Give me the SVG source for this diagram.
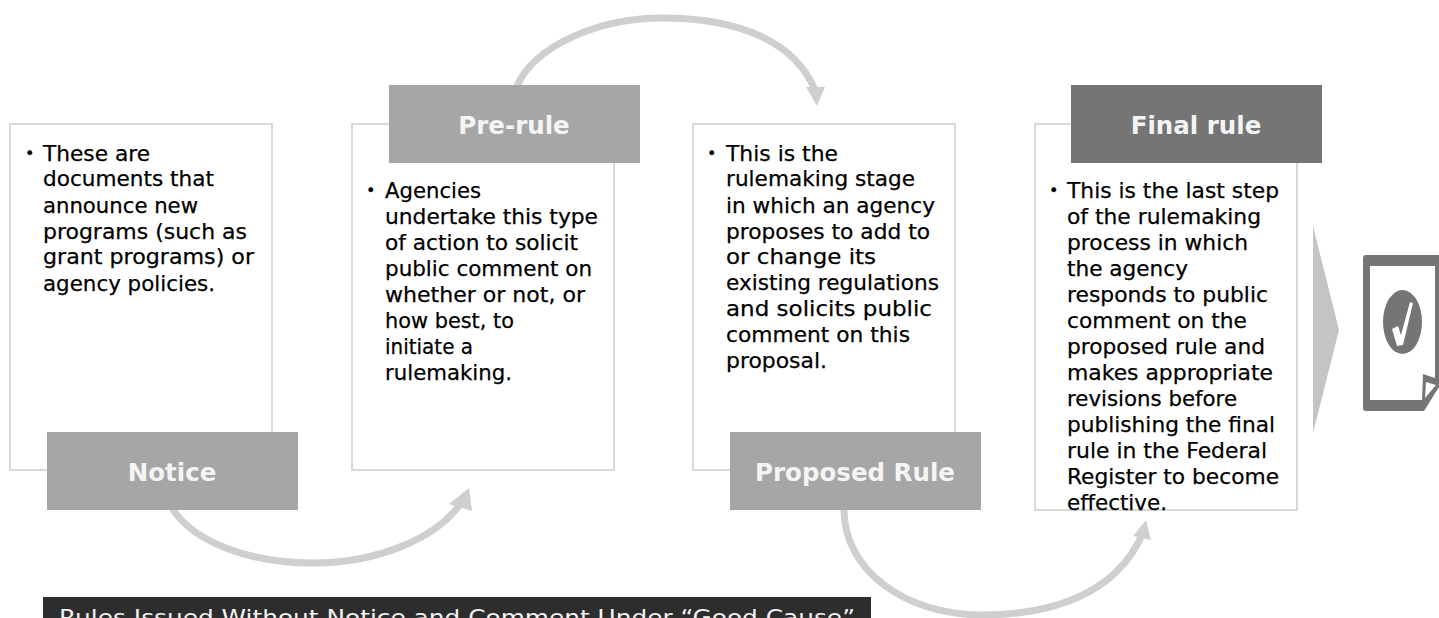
<svg xmlns="http://www.w3.org/2000/svg" width="1439" height="618" viewBox="0 0 1439 618">
<style>
.box{fill:#fff;stroke:#d9d9d9;stroke-width:2}
.t{font-family:"DejaVu Sans",Verdana,sans-serif;font-size:21.500px;fill:#000;stroke:#000;stroke-width:.25}
.b{font-size:16px}
.h{font-family:"DejaVu Sans",Verdana,sans-serif;font-size:24.500px;font-weight:700;fill:#f4f4f4;text-anchor:middle}
.c{fill:none;stroke:#cfcfcf;stroke-width:7}
.ah{fill:#cfcfcf}
</style>
<rect width="1439" height="618" fill="#fff"/>
<g id="connectors">
<path class="c" d="M172 508C195 545 255 563 313 563C375 563 435 540 461 503"/>
<polygon class="ah" points="469,488 472,511 449,504"/>
<path class="c" d="M517 86C535 45 600 18 662 18C740 18 795 42 815 90"/>
<polygon class="ah" points="817,106 806,87 825,87"/>
<path class="c" d="M844 510C844 570 905 615 982 615C1050 615 1115 595 1142 535"/>
<polygon class="ah" points="1146,520 1151,540 1133,536"/>
</g>
<g id="notice-body"><rect class="box" x="10" y="124" width="262" height="346"/>
<text class="t"><tspan class="b" x="25" y="159">•</tspan><tspan x="43" y="161" textLength="107" lengthAdjust="spacingAndGlyphs">These are</tspan><tspan x="43" y="186" textLength="171" lengthAdjust="spacingAndGlyphs">documents that</tspan><tspan x="43" y="213" textLength="155" lengthAdjust="spacingAndGlyphs">announce new</tspan><tspan x="43" y="239" textLength="204" lengthAdjust="spacingAndGlyphs">programs (such as</tspan><tspan x="43" y="264" textLength="211" lengthAdjust="spacingAndGlyphs">grant programs) or</tspan><tspan x="43" y="291" textLength="172" lengthAdjust="spacingAndGlyphs">agency policies.</tspan></text></g>
<g id="notice"><rect x="47" y="432" width="251" height="78" fill="#a6a6a6"/><text class="h" x="172" y="481">Notice</text></g>
<g id="prerule-body"><rect class="box" x="352" y="124" width="262" height="346"/>
<text class="t"><tspan class="b" x="366" y="196">•</tspan><tspan x="385" y="198" textLength="96" lengthAdjust="spacingAndGlyphs">Agencies</tspan><tspan x="385" y="224" textLength="213" lengthAdjust="spacingAndGlyphs">undertake this type</tspan><tspan x="385" y="250" textLength="193" lengthAdjust="spacingAndGlyphs">of action to solicit</tspan><tspan x="385" y="276" textLength="207" lengthAdjust="spacingAndGlyphs">public comment on</tspan><tspan x="385" y="302" textLength="200" lengthAdjust="spacingAndGlyphs">whether or not, or</tspan><tspan x="385" y="328" textLength="129" lengthAdjust="spacingAndGlyphs">how best, to</tspan><tspan x="385" y="354" textLength="88" lengthAdjust="spacingAndGlyphs">initiate a</tspan><tspan x="385" y="380" textLength="127" lengthAdjust="spacingAndGlyphs">rulemaking.</tspan></text></g>
<g id="prerule"><rect x="389" y="85" width="251" height="78" fill="#a6a6a6"/><text class="h" x="514" y="134">Pre-rule</text></g>
<g id="proposed-body"><rect class="box" x="693" y="124" width="262" height="346"/>
<text class="t"><tspan class="b" x="707" y="159">•</tspan><tspan x="726" y="161" textLength="112" lengthAdjust="spacingAndGlyphs">This is the</tspan><tspan x="726" y="186" textLength="189" lengthAdjust="spacingAndGlyphs">rulemaking stage</tspan><tspan x="726" y="213" textLength="209" lengthAdjust="spacingAndGlyphs">in which an agency</tspan><tspan x="726" y="239" textLength="204" lengthAdjust="spacingAndGlyphs">proposes to add to</tspan><tspan x="726" y="264" textLength="150" lengthAdjust="spacingAndGlyphs">or change its</tspan><tspan x="726" y="290" textLength="213" lengthAdjust="spacingAndGlyphs">existing regulations</tspan><tspan x="726" y="316" textLength="206" lengthAdjust="spacingAndGlyphs">and solicits public</tspan><tspan x="726" y="342" textLength="184" lengthAdjust="spacingAndGlyphs">comment on this</tspan><tspan x="726" y="368" textLength="101" lengthAdjust="spacingAndGlyphs">proposal.</tspan></text></g>
<g id="proposed"><rect x="730" y="432" width="251" height="78" fill="#a6a6a6"/><text class="h" x="855" y="481">Proposed Rule</text></g>
<g id="final-body"><rect class="box" x="1035" y="124" width="262" height="386"/>
<text class="t"><tspan class="b" x="1049" y="196">•</tspan><tspan x="1067" y="198" textLength="212" lengthAdjust="spacingAndGlyphs">This is the last step</tspan><tspan x="1067" y="224" textLength="194" lengthAdjust="spacingAndGlyphs">of the rulemaking</tspan><tspan x="1067" y="250" textLength="181" lengthAdjust="spacingAndGlyphs">process in which</tspan><tspan x="1067" y="276" textLength="121" lengthAdjust="spacingAndGlyphs">the agency</tspan><tspan x="1067" y="302" textLength="201" lengthAdjust="spacingAndGlyphs">responds to public</tspan><tspan x="1067" y="328" textLength="180" lengthAdjust="spacingAndGlyphs">comment on the</tspan><tspan x="1067" y="354" textLength="198" lengthAdjust="spacingAndGlyphs">proposed rule and</tspan><tspan x="1067" y="380" textLength="206" lengthAdjust="spacingAndGlyphs">makes appropriate</tspan><tspan x="1067" y="406" textLength="170" lengthAdjust="spacingAndGlyphs">revisions before</tspan><tspan x="1067" y="432" textLength="208" lengthAdjust="spacingAndGlyphs">publishing the final</tspan><tspan x="1067" y="458" textLength="200" lengthAdjust="spacingAndGlyphs">rule in the Federal</tspan><tspan x="1067" y="484" textLength="212" lengthAdjust="spacingAndGlyphs">Register to become</tspan><tspan x="1067" y="510" textLength="100" lengthAdjust="spacingAndGlyphs">effective.</tspan></text></g>
<g id="final"><rect x="1071" y="85" width="251" height="78" fill="#757575"/><text class="h" x="1196" y="134">Final rule</text></g>
<g id="chevron"><polygon points="1313,226 1339,330 1313,433" fill="#c4c4c4"/></g>
<g id="document-icon">
<path d="M1366 255H1439V387L1424 411H1366Q1363 411 1363 408V258Q1363 255 1366 255Z" fill="#757575"/>
<path d="M1370 266H1435V378L1423 374L1422 400H1370Z" fill="#fff"/>
<path d="M1426 382L1436 385L1425 398Z" fill="#fff"/>
<ellipse cx="1402.500" cy="322" rx="19.500" ry="32" fill="#757575"/>
<path d="M1392 329L1398 326L1401 335L1410 302L1413 303L1403 345L1397 346Z" fill="#fff"/>
</g>
<g id="banner"><rect x="43" y="597" width="828" height="21" fill="#2d2d2d"/>
<text x="59" y="625" font-family="DejaVu Sans, Verdana, sans-serif" font-size="22" fill="#f2f2f2" textLength="796" lengthAdjust="spacingAndGlyphs">Rules Issued Without Notice and Comment Under “Good Cause”</text></g>
</svg>
